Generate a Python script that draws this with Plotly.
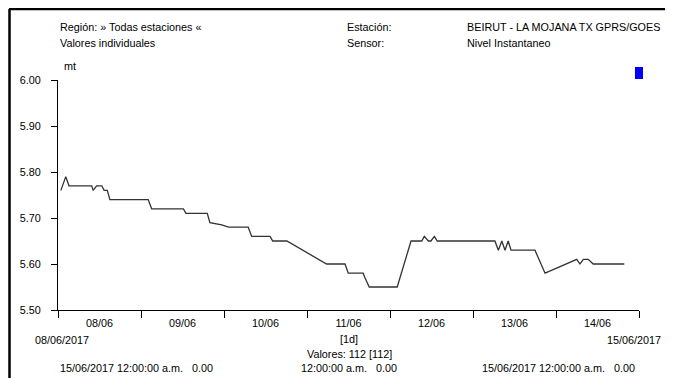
"""Nivel Instantaneo - BEIRUT - LA MOJANA TX GPRS/GOES."""

import plotly.graph_objects as go

# readings (time, level in mt)
times = [
    "2017-06-08 00:50", "2017-06-08 02:15", "2017-06-08 03:10", "2017-06-08 09:45",
    "2017-06-08 10:10", "2017-06-08 11:10", "2017-06-08 12:40", "2017-06-08 13:20",
    "2017-06-08 14:15", "2017-06-08 15:00", "2017-06-09 02:05", "2017-06-09 03:05",
    "2017-06-09 12:15", "2017-06-09 13:00", "2017-06-09 19:10", "2017-06-09 19:55",
    "2017-06-09 23:20", "2017-06-10 01:20", "2017-06-10 07:00", "2017-06-10 08:00",
    "2017-06-10 13:20", "2017-06-10 14:05", "2017-06-10 18:10", "2017-06-11 05:40",
    "2017-06-11 11:00", "2017-06-11 11:55", "2017-06-11 16:15", "2017-06-11 16:45",
    "2017-06-11 18:00", "2017-06-12 02:05", "2017-06-12 06:05", "2017-06-12 09:10",
    "2017-06-12 09:55", "2017-06-12 11:05", "2017-06-12 11:50", "2017-06-12 12:50",
    "2017-06-12 13:40", "2017-06-13 06:20", "2017-06-13 07:20", "2017-06-13 08:20",
    "2017-06-13 09:15", "2017-06-13 10:10", "2017-06-13 11:00", "2017-06-13 17:55",
    "2017-06-13 20:50", "2017-06-14 06:00", "2017-06-14 06:55", "2017-06-14 07:55",
    "2017-06-14 09:20", "2017-06-14 10:45", "2017-06-14 19:45",
]
levels = [
    5.76, 5.79, 5.77, 5.77, 5.76, 5.77, 5.77, 5.76, 5.76, 5.74,
    5.74, 5.72, 5.72, 5.71, 5.71, 5.69, 5.685, 5.68, 5.68, 5.66,
    5.66, 5.65, 5.65, 5.60, 5.60, 5.58, 5.58, 5.57, 5.55, 5.55,
    5.65, 5.65, 5.66, 5.65, 5.65, 5.66, 5.65, 5.65, 5.63, 5.65,
    5.63, 5.65, 5.63, 5.63, 5.58, 5.61, 5.60, 5.61, 5.61, 5.60,
    5.60,
]
y_ticks = [5.50, 5.60, 5.70, 5.80, 5.90, 6.00]

OFF = 8  # body margin of the html page
W, H = 673 - OFF, 378 - OFF
L, R, T, B = 58, 639, 80, 310  # plot area, page pixels
FONT = "Liberation Sans Narrow, Arial Narrow, Liberation Sans, Arial, sans-serif"
FS = 10.8


def px(x):
    return (x - L) / (R - L)


def py(y):
    return (B - y) / (B - T)


fig = go.Figure(go.Scatter(
    x=times, y=levels, mode="lines",
    line=dict(color="#333333", width=1.3),
    showlegend=False, hoverinfo="x+y",
))

texts = [
    # (x, y, text, anchor) in page pixels
    (58, 27, "Región: » Todas estaciones «", "left"),
    (58, 43, "Valores individuales", "left"),
    (345, 27, "Estación:", "left"),
    (345, 43, "Sensor:", "left"),
    (465, 27, "BEIRUT - LA MOJANA TX GPRS/GOES", "left"),
    (465, 43, "Nivel Instantaneo", "left"),
    (62, 66, "mt", "left"),
    (33, 340, "08/06/2017", "left"),
    (663, 340, "15/06/2017", "right"),
    (58, 368, "15/06/2017 12:00:00 a.m.   0.00", "left"),
    (637, 368, "15/06/2017 12:00:00 a.m.   0.00", "right"),
    (349, 339, "[1d]", "center"),
    (349, 354, "Valores: 112 [112]", "center"),
    (349, 368, "12:00:00 a.m.   0.00", "center"),
]
annotations = [
    dict(x=px(x), y=py(y), xref="paper", yref="paper", text=t,
         showarrow=False, xanchor=a, yanchor="middle",
         font=dict(family=FONT, size=FS, color="black"))
    for x, y, t, a in texts
]

shapes = [
    # page frame (top and left)
    dict(type="line", xref="paper", yref="paper", x0=px(9), x1=px(671),
         y0=py(9), y1=py(9), line=dict(color="black", width=2.5)),
    dict(type="line", xref="paper", yref="paper", x0=px(9.5), x1=px(9.5),
         y0=py(9), y1=py(390), line=dict(color="black", width=2.5)),
    # blue legend marker
    dict(type="rect", xref="paper", yref="paper", x0=px(635), x1=px(643),
         y0=py(79), y1=py(67), fillcolor="#0000ff", line=dict(width=0)),
]

fig.update_layout(
    width=W, height=H,
    margin=dict(l=L - OFF, r=W - (R - OFF), t=T - OFF, b=H - (B - OFF), pad=0),
    paper_bgcolor="white", plot_bgcolor="white",
    font=dict(family=FONT, size=FS, color="black"),
    annotations=annotations, shapes=shapes,
    xaxis=dict(
        type="date", range=["2017-06-08", "2017-06-15"],
        tick0="2017-06-08", dtick=86400000, tickformat="%d/%m",
        ticklabelmode="period", ticks="outside", ticklen=7,
        tickcolor="black", tickwidth=1, ticklabelstandoff=-4,
        showline=True, linecolor="black", linewidth=1,
        showgrid=False, zeroline=False, fixedrange=True,
    ),
    yaxis=dict(
        range=[5.5, 6.0], tickvals=y_ticks, tickformat=".2f",
        ticks="outside", ticklen=6, tickcolor="black", tickwidth=1,
        showline=True, linecolor="black", linewidth=1,
        showgrid=False, zeroline=False, fixedrange=True,
        ticklabelstandoff=8,
    ),
)

fig.write_html("out.html")
